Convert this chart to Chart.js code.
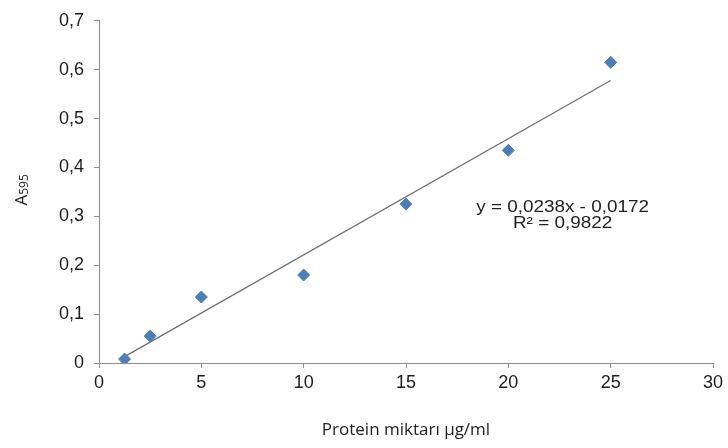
<!DOCTYPE html>
<html>
<head>
<meta charset="utf-8">
<script src="https://cdn.jsdelivr.net/npm/chart.js@4/dist/chart.umd.min.js"></script>
<style>
    html, body { margin: 0; padding: 0; background: #fff; }
    #wrap { width: 728px; height: 448px; }
</style>
</head>
<body>
<div id="wrap"><canvas id="chart-protein"></canvas></div>
<script>
// standard curve points
const conc = [1.25, 2.5, 5, 10, 15, 20, 25];
const absorb = [0.008, 0.055, 0.135, 0.18, 0.325, 0.435, 0.615];

// trend line ends (y = 0,0238x - 0,0172)
const trendX = [1.25, 25];
const trendY = [0.013, 0.578];

const eqLines = ['y = 0,0238x - 0,0172', 'R² = 0,9822'];
const xTitle = 'Protein miktarı µg/ml';

const axisGray = '#8c8c8c';
const tickFont = { family: 'Liberation Sans, Arial, sans-serif', size: 18 };

const fmt = v => (v === 0 ? '0' : Number(v).toFixed(1).replace('.', ','));

// equation label + A595 axis title
const textPlugin = {
    id: 'texts',
    afterDraw(chart) {
        const ctx = chart.ctx;
        const xs = chart.scales.x, ys = chart.scales.y;
        ctx.save();
        ctx.fillStyle = '#1e1e1e';
        ctx.textAlign = 'center';
        ctx.textBaseline = 'middle';
        const cx = xs.getPixelForValue(22.65);
        const cy = ys.getPixelForValue(0.318);
        // the original text is a bit wide, stretch it
        ctx.save();
        ctx.translate(cx, cy);
        ctx.scale(1.18, 1);
        ctx.font = '16px Liberation Sans, Arial, sans-serif';
        ctx.fillText(eqLines[0], 0, 0);
        ctx.fillText(eqLines[1], 0, 16);
        ctx.restore();

        // rotated y title, A with smaller 595
        ctx.translate(27, ys.getPixelForValue(0.346) - 4);
        ctx.rotate(-Math.PI / 2);
        ctx.textAlign = 'left';
        ctx.textBaseline = 'alphabetic';
        ctx.font = '17px Open Sans, sans-serif';
        const wA = ctx.measureText('A').width;
        ctx.font = '12px Open Sans, sans-serif';
        const wS = ctx.measureText('595').width;
        const start = -(wA + wS) / 2;
        ctx.font = '17px Open Sans, sans-serif';
        ctx.fillText('A', start, 0);
        ctx.font = '12px Open Sans, sans-serif';
        ctx.fillText('595', start + wA, 1);
        ctx.restore();
    }
};

const data = {
    datasets: [{
        label: 'A595',
        data: conc.map((c, i) => ({ x: c, y: absorb[i] })),
        pointStyle: 'rectRot',
        pointRadius: 6,
        backgroundColor: '#4a7ebb',
        borderColor: '#4a7ebb',
        showLine: false,
        order: 1
    }, {
        label: 'trend',
        data: trendX.map((c, i) => ({ x: c, y: trendY[i] })),
        showLine: true,
        pointRadius: 0,
        borderColor: '#6e6e6e',
        borderWidth: 1.2,
        order: 2
    }]
};

const config = {
    type: 'scatter',
    data: data,
    plugins: [textPlugin],
    options: {
        responsive: true,
        maintainAspectRatio: false,
        animation: false,
        layout: { padding: { top: 13, right: 15, left: 0, bottom: 0 } },
        plugins: {
            legend: { display: false },
            tooltip: { enabled: false }
        },
        scales: {
            x: {
                type: 'linear',
                min: 0,
                max: 30,
                ticks: { stepSize: 5, color: '#1e1e1e', font: tickFont, padding: 4, maxRotation: 0 },
                grid: { drawOnChartArea: false, drawTicks: true, tickLength: 5, color: axisGray },
                border: { color: axisGray },
                title: {
                    display: true,
                    text: xTitle,
                    color: '#1e1e1e',
                    font: { family: 'Open Sans, sans-serif', size: 17 },
                    padding: { top: 0, bottom: 8 }
                },
                afterFit(scale) { scale.height = 85; }
            },
            y: {
                min: 0,
                max: 0.7,
                ticks: { stepSize: 0.1, color: '#1e1e1e', font: tickFont, padding: 10, callback: v => fmt(v) },
                grid: { drawOnChartArea: false, drawTicks: true, tickLength: 5, color: axisGray },
                border: { color: axisGray },
                afterFit(scale) { scale.width = 99; }
            }
        }
    }
};

const proteinChart = new Chart(document.getElementById('chart-protein'), config);
</script>
</body>
</html>
